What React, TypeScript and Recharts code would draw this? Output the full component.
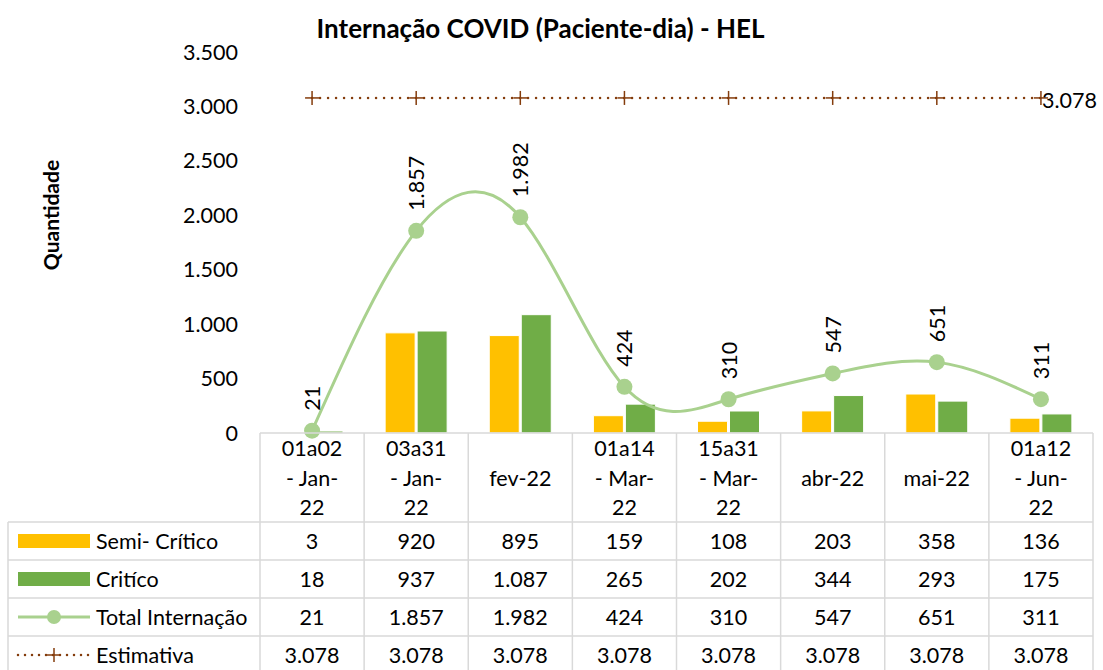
import React from "react";
import { ComposedChart, Bar, Line, XAxis, YAxis, LabelList } from "recharts";

const categories = [
  "01a02\n- Jan-\n22",
  "03a31\n- Jan-\n22",
  "fev-22",
  "01a14\n- Mar-\n22",
  "15a31\n- Mar-\n22",
  "abr-22",
  "mai-22",
  "01a12\n- Jun-\n22",
];
const semiCritico = [3, 920, 895, 159, 108, 203, 358, 136];
const critico = [18, 937, 1087, 265, 202, 344, 293, 175];
const totalInternacao = [21, 1857, 1982, 424, 310, 547, 651, 311];
const estimativa = [3078, 3078, 3078, 3078, 3078, 3078, 3078, 3078];
const yTicks = [0, 500, 1000, 1500, 2000, 2500, 3000, 3500];

const data = categories.map((cat, i) => ({
  cat,
  semi: semiCritico[i],
  critico: critico[i],
  total: totalInternacao[i],
  estimativa: estimativa[i],
}));

const W = 1103;
const H = 670;
const PLOT_L = 260;
const PLOT_R = 1093;
const PLOT_T = 52;
const PLOT_B = 433;
const HEADER_B = 522;
const ROW_H = 38;
const FONT = "Lato, 'Noto Sans', sans-serif";
const FS = 21.5;
const GRID = "#D9D9D9";

const YELLOW = "#FFC000";
const GREEN = "#70AD47";
const LIGHT_GREEN = "#A9D18E";
const BROWN = "#843C0C";

// 1857 -> "1.857"
const fmt = (v: number) => String(v).replace(/\B(?=(\d{3})+(?!\d))/g, ".");

const rows = [
  { name: "Semi- Crítico", values: semiCritico, kind: "bar", color: YELLOW },
  { name: "Critíco", values: critico, kind: "bar", color: GREEN },
  { name: "Total Internação", values: totalInternacao, kind: "line", color: LIGHT_GREEN },
  { name: "Estimativa", values: estimativa, kind: "dotted", color: BROWN },
];

function PlusDot(props: any) {
  const { cx, cy } = props;
  if (cx == null || cy == null) return null;
  return (
    <g>
      <line x1={cx - 7} x2={cx + 7} y1={cy} y2={cy} stroke={BROWN} strokeWidth={1.5} />
      <line x1={cx} x2={cx} y1={cy - 7} y2={cy + 7} stroke={BROWN} strokeWidth={1.5} />
    </g>
  );
}

function TotalLabel(props: any) {
  const { x, y, value } = props;
  const ty = y - 20;
  return (
    <text
      x={x}
      y={ty}
      transform={`rotate(-90 ${x} ${ty})`}
      textAnchor="start"
      dominantBaseline="central"
      fontSize={FS}
      fontFamily={FONT}
      fill="#000"
    >
      {fmt(value)}
    </text>
  );
}

function EstimativaLabel(props: any) {
  const { x, y, value, index } = props;
  if (index !== categories.length - 1) return null;
  return (
    <text x={x + 1} y={y + 2} dominantBaseline="central" fontSize={FS} fontFamily={FONT} fill="#000">
      {fmt(value)}
    </text>
  );
}

function LegendSymbol({ kind, color, y }: { kind: string; color: string; y: number }) {
  if (kind === "bar") return <rect x={18} y={y - 7} width={72} height={14} fill={color} />;
  if (kind === "line")
    return (
      <g>
        <line x1={18} x2={90} y1={y} y2={y} stroke={color} strokeWidth={3} />
        <circle cx={54} cy={y} r={7} fill={color} />
      </g>
    );
  return (
    <g>
      <line x1={18} x2={90} y1={y} y2={y} stroke={color} strokeWidth={2.5} strokeDasharray="0 7" strokeLinecap="round" />
      <line x1={54} x2={54} y1={y - 7} y2={y + 7} stroke={color} strokeWidth={1.5} />
      <line x1={47} x2={61} y1={y} y2={y} stroke={color} strokeWidth={1.5} />
    </g>
  );
}

function DataTable() {
  const colW = (PLOT_R - PLOT_L) / categories.length;
  const tableBottom = HEADER_B + rows.length * ROW_H;
  return (
    <svg width={W} height={H} style={{ position: "absolute", left: 0, top: 0, pointerEvents: "none" }}>
      {/* header top line = x axis */}
      <line x1={PLOT_L} x2={PLOT_R} y1={PLOT_B} y2={PLOT_B} stroke={GRID} strokeWidth={1.5} />
      {categories.map((_, i) => (
        <line
          key={"v" + i}
          x1={PLOT_L + i * colW}
          x2={PLOT_L + i * colW}
          y1={PLOT_B}
          y2={tableBottom}
          stroke={GRID}
          strokeWidth={1.5}
        />
      ))}
      <line x1={PLOT_R} x2={PLOT_R} y1={PLOT_B} y2={tableBottom} stroke={GRID} strokeWidth={1.5} />
      <line x1={8} x2={8} y1={HEADER_B} y2={tableBottom} stroke={GRID} strokeWidth={1.5} />
      {rows.map((_, r) => (
        <line
          key={"h" + r}
          x1={8}
          x2={PLOT_R}
          y1={HEADER_B + r * ROW_H}
          y2={HEADER_B + r * ROW_H}
          stroke={GRID}
          strokeWidth={1.5}
        />
      ))}
      {categories.map((cat, i) => {
        const lines = cat.split("\n");
        const cx = PLOT_L + (i + 0.5) * colW;
        const mid = (PLOT_B + HEADER_B) / 2;
        const lh = 29.5;
        const start = mid - ((lines.length - 1) * lh) / 2;
        return (
          <text key={"c" + i} textAnchor="middle" fontSize={FS} fontFamily={FONT} fill="#000">
            {lines.map((ln, k) => (
              <tspan key={k} x={cx} y={start + k * lh} dominantBaseline="central">
                {ln}
              </tspan>
            ))}
          </text>
        );
      })}
      {rows.map((row, r) => {
        const cy = HEADER_B + r * ROW_H + ROW_H / 2;
        return (
          <g key={"r" + r}>
            <LegendSymbol kind={row.kind} color={row.color} y={cy} />
            <text x={96} y={cy} dominantBaseline="central" fontSize={FS} fontFamily={FONT} fill="#000">
              {row.name}
            </text>
            {row.values.map((v, i) => (
              <text
                key={i}
                x={PLOT_L + (i + 0.5) * colW}
                y={cy}
                textAnchor="middle"
                dominantBaseline="central"
                fontSize={FS}
                fontFamily={FONT}
                fill="#000"
              >
                {fmt(v)}
              </text>
            ))}
          </g>
        );
      })}
    </svg>
  );
}

export default function App() {
  return (
    <div style={{ position: "absolute", left: 0, top: 0, width: W, height: H, background: "#fff", fontFamily: FONT }}>
      <div
        style={{
          position: "absolute",
          left: -11,
          width: W,
          top: 11,
          lineHeight: "34px",
          textAlign: "center",
          fontWeight: 700,
          fontSize: 26,
          color: "#000",
        }}
      >
        Internação COVID (Paciente-dia) - HEL
      </div>
      <div
        style={{
          position: "absolute",
          left: 50,
          top: 215,
          transform: "translate(-50%, -50%) rotate(-90deg)",
          fontWeight: 700,
          fontSize: 21,
          whiteSpace: "nowrap",
          color: "#000",
        }}
      >
        Quantidade
      </div>
      <div style={{ position: "absolute", left: 0, top: 0 }}>
        <ComposedChart
          width={W}
          height={H}
          data={data}
          margin={{ top: PLOT_T, right: W - PLOT_R, bottom: H - PLOT_B, left: PLOT_L - 60 }}
          barSize={30}
          barGap={2}
        >
          <XAxis dataKey="cat" hide />
          <YAxis
            width={60}
            domain={[0, 3500]}
            ticks={yTicks}
            tickFormatter={fmt}
            axisLine={false}
            tickLine={false}
            tickSize={0}
            tickMargin={22}
            tick={{ fontSize: FS, fill: "#000", fontFamily: FONT }}
          />
          <Bar dataKey="semi" fill={YELLOW} stroke="#fff" strokeWidth={1} isAnimationActive={false} />
          <Bar dataKey="critico" fill={GREEN} stroke="#fff" strokeWidth={1} isAnimationActive={false} />
          <Line
            type="natural"
            dataKey="total"
            stroke={LIGHT_GREEN}
            strokeWidth={3}
            dot={{ r: 8, fill: LIGHT_GREEN, stroke: LIGHT_GREEN, strokeWidth: 0 }}
            isAnimationActive={false}
          >
            <LabelList dataKey="total" content={<TotalLabel />} />
          </Line>
          <Line
            type="linear"
            dataKey="estimativa"
            stroke={BROWN}
            strokeWidth={2.5}
            strokeDasharray="0 8"
            strokeLinecap="round"
            dot={<PlusDot />}
            isAnimationActive={false}
          >
            <LabelList dataKey="estimativa" content={<EstimativaLabel />} />
          </Line>
        </ComposedChart>
      </div>
      <DataTable />
    </div>
  );
}
